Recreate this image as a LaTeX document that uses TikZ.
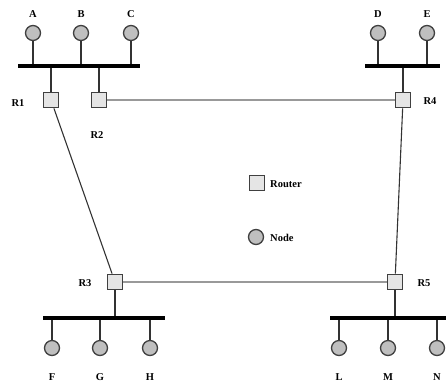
\documentclass[tikz,border=0pt]{standalone}
\usepackage{fontspec}
\setmainfont{Liberation Serif}
\begin{document}
\begin{tikzpicture}[x=1pt,y=-1pt,
  router/.style={rectangle, draw=black!75, fill=black!10, line width=1.3pt,
    minimum size=15.5pt, inner sep=0pt},
  host/.style={circle, draw=black!75, fill=black!25, line width=1.3pt,
    minimum size=15pt, inner sep=0pt},
  lbl/.style={font=\bfseries\fontsize{10.5}{12}\selectfont, inner sep=0pt},
  bus/.style={line width=4pt, draw=black},
  stub/.style={line width=1.3pt, draw=black!80},
  trunk/.style={line width=2.6pt, draw=black!40},
  link/.style={line width=1.1pt, draw=black!80}]
\useasboundingbox (0,0) rectangle (446,386);

% LAN segments
\coordinate (b1w) at (18,66);  \coordinate (b1e) at (140,66);
\coordinate (b2w) at (365,66); \coordinate (b2e) at (440,66);
\coordinate (b3w) at (43,318); \coordinate (b3e) at (165,318);
\coordinate (b4w) at (330,318);\coordinate (b4e) at (446,318);

% routers
\node[router] (R1) at (51,100) {};
\node[router] (R2) at (99,100) {};
\node[router] (R4) at (403,100) {};
\node[router] (R3) at (115,282) {};
\node[router] (R5) at (395,282) {};

% hosts
\node[host] (A) at (33,33) {};
\node[host] (B) at (81,33) {};
\node[host] (C) at (131,33) {};
\node[host] (D) at (378,33) {};
\node[host] (E) at (427,33) {};
\node[host] (F) at (52,348) {};
\node[host] (G) at (100,348) {};
\node[host] (H) at (150,348) {};
\node[host] (L) at (339,348) {};
\node[host] (M) at (388,348) {};
\node[host] (N) at (437,348) {};

% drops from the segments
\foreach \h/\b in {A/b1w,B/b1w,C/b1w,R1/b1w,R2/b1w,D/b2w,E/b2w,R4/b2w,
                   F/b3w,G/b3w,H/b3w,R3/b3w,L/b4w,M/b4w,N/b4w,R5/b4w}
  \draw[stub] (\h) -- (\h |- \b);

\draw[bus] (b1w) -- (b1e);
\draw[bus] (b2w) -- (b2e);
\draw[bus] (b3w) -- (b3e);
\draw[bus] (b4w) -- (b4e);

% inter-router links
\draw[trunk] (R2) -- (R4);
\draw[trunk] (R3) -- (R5);
\draw[link] (R1) -- (R3);
\draw[link] (R4) -- (R5);

% labels
\node[lbl] at (33,14) {A};
\node[lbl] at (81,14) {B};
\node[lbl] at (131,14) {C};
\node[lbl] at (378,14) {D};
\node[lbl] at (427,14) {E};
\node[lbl] at (52,377) {F};
\node[lbl] at (100,377) {G};
\node[lbl] at (150,377) {H};
\node[lbl] at (339,377) {L};
\node[lbl] at (388,377) {M};
\node[lbl] at (437,377) {N};
\node[lbl] at (18,103) {R1};
\node[lbl] at (97,135) {R2};
\node[lbl] at (430,101) {R4};
\node[lbl] at (85,283) {R3};
\node[lbl] at (424,283) {R5};

% legend
\node[router] (kR) at (257,183) {};
\node[lbl, anchor=west] at (270,184) {Router};
\node[host] (kN) at (256,237) {};
\node[lbl, anchor=west] at (270,238) {Node};
\end{tikzpicture}
\end{document}
